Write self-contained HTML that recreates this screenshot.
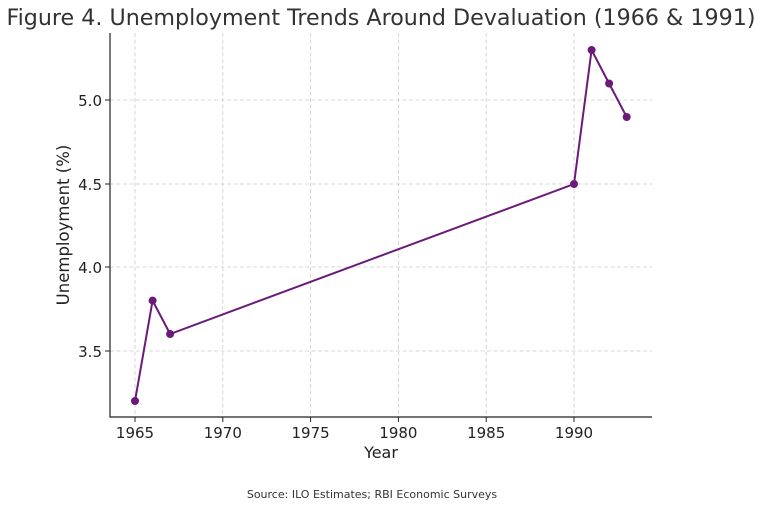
<!DOCTYPE html>
<html><head><meta charset="utf-8"><style>
html,body{margin:0;padding:0;background:#fff;}
svg{display:block;font-family:"DejaVu Sans","Liberation Sans",sans-serif;}
</style></head><body>
<svg width="760" height="508" viewBox="0 0 760 508" xmlns="http://www.w3.org/2000/svg">
<rect width="760" height="508" fill="#fff"/>
<text x="381" y="25" text-anchor="middle" font-size="22.2" fill="#333">Figure 4. Unemployment Trends Around Devaluation (1966 &amp; 1991)</text>
<g stroke="#cccccc" stroke-width="0.8" stroke-dasharray="4,2.5">
<line x1="135" y1="33" x2="135" y2="417"/>
<line x1="222.8" y1="33" x2="222.8" y2="417"/>
<line x1="310.6" y1="33" x2="310.6" y2="417"/>
<line x1="398.4" y1="33" x2="398.4" y2="417"/>
<line x1="486.2" y1="33" x2="486.2" y2="417"/>
<line x1="574" y1="33" x2="574" y2="417"/>
<line x1="110" y1="100" x2="652" y2="100"/>
<line x1="110" y1="184" x2="652" y2="184"/>
<line x1="110" y1="267" x2="652" y2="267"/>
<line x1="110" y1="351" x2="652" y2="351"/>
</g>
<path d="M110 33 V417 H652" fill="none" stroke="#222" stroke-width="1.2"/>
<g stroke="#222" stroke-width="1">
<line x1="135" y1="417" x2="135" y2="422"/><line x1="222.8" y1="417" x2="222.8" y2="422"/>
<line x1="310.6" y1="417" x2="310.6" y2="422"/><line x1="398.4" y1="417" x2="398.4" y2="422"/>
<line x1="486.2" y1="417" x2="486.2" y2="422"/><line x1="574" y1="417" x2="574" y2="422"/>
<line x1="105" y1="100" x2="110" y2="100"/><line x1="105" y1="184" x2="110" y2="184"/>
<line x1="105" y1="267" x2="110" y2="267"/><line x1="105" y1="351" x2="110" y2="351"/>
</g>
<g font-size="15" fill="#222" text-anchor="middle">
<text x="135" y="438">1965</text><text x="222.8" y="438">1970</text><text x="310.6" y="438">1975</text>
<text x="398.4" y="438">1980</text><text x="486.2" y="438">1985</text><text x="574" y="438">1990</text>
</g>
<g font-size="15" fill="#222" text-anchor="end">
<text x="102" y="106">5.0</text><text x="102" y="190">4.5</text><text x="102" y="273">4.0</text><text x="102" y="357">3.5</text>
</g>
<text x="381" y="458" text-anchor="middle" font-size="16" fill="#222">Year</text>
<text transform="translate(69,225) rotate(-90)" text-anchor="middle" font-size="16.5" fill="#222">Unemployment (%)</text>
<polyline points="135,401 152.6,300.6 170.1,334 574,184 591.6,50 609.1,83.5 626.7,117" fill="none" stroke="#6a1b7a" stroke-width="2"/>
<g fill="#6a1b7a">
<circle cx="135" cy="401" r="4"/><circle cx="152.6" cy="300.6" r="4"/><circle cx="170.1" cy="334" r="4"/>
<circle cx="574" cy="184" r="4"/><circle cx="591.6" cy="50" r="4"/><circle cx="609.1" cy="83.5" r="4"/><circle cx="626.7" cy="117" r="4"/>
</g>
<text x="372" y="498" text-anchor="middle" font-size="11" fill="#333">Source: ILO Estimates; RBI Economic Surveys</text>
</svg>
</body></html>
